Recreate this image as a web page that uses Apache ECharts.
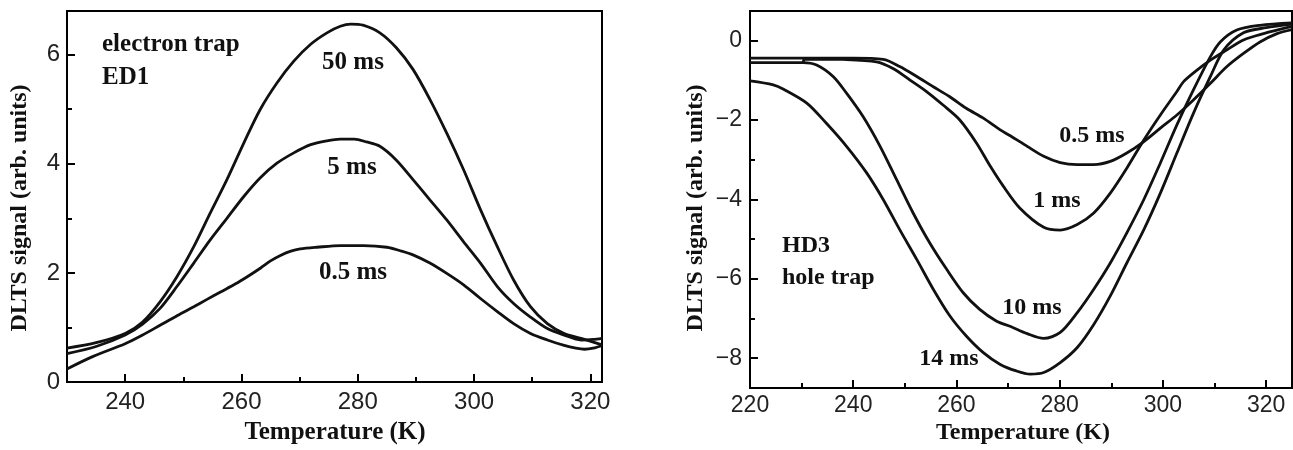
<!DOCTYPE html>
<html><head><meta charset="utf-8">
<script src="https://cdn.jsdelivr.net/npm/echarts@6/dist/echarts.min.js"></script>
<style>html,body{margin:0;padding:0;background:#fff}#c{width:1293px;height:450px}</style>
</head><body><div id="c"></div>
<script>
// ---------- Left panel: electron trap ED1 ----------
const ed1XTicks = [240, 260, 280, 300, 320];
const ed1XMinor = [250, 270, 290, 310];
const ed1YTicks = [0, 2, 4, 6];
const ed1YMinor = [1, 3, 5];

const ed1_T_50 = [230, 235, 240, 243, 246, 248.9, 251.8, 254.6, 257.5, 260.4, 263.2, 266.1, 269, 271.9, 274.7, 277, 278.8, 280.9, 283.8, 286.6, 289.5, 292.4, 295.3, 298.2, 301.1, 304, 306.8, 309.7, 312.6, 315.5, 318.4, 322];
const ed1_V_50 = [0.62, 0.72, 0.89, 1.10, 1.47, 1.93, 2.48, 3.09, 3.71, 4.38, 4.99, 5.48, 5.88, 6.19, 6.40, 6.52, 6.56, 6.54, 6.40, 6.13, 5.73, 5.18, 4.56, 3.89, 3.16, 2.48, 1.87, 1.38, 1.07, 0.89, 0.80, 0.68];

const ed1_T_5 = [230, 235, 240, 243, 246, 248.9, 251.8, 254.6, 257.5, 260.4, 263.2, 266.1, 269, 271.9, 274.7, 277, 279.4, 281.5, 283.8, 286.6, 289.5, 292.4, 295.3, 298.2, 301.1, 304, 306.8, 309.7, 312.6, 315.5, 318.4, 320.5, 322];
const ed1_V_5 = [0.52, 0.65, 0.86, 1.06, 1.35, 1.75, 2.18, 2.60, 3.00, 3.40, 3.74, 4.01, 4.20, 4.35, 4.42, 4.45, 4.45, 4.40, 4.32, 4.07, 3.71, 3.34, 2.97, 2.57, 2.18, 1.75, 1.44, 1.19, 0.98, 0.86, 0.77, 0.78, 0.80];

const ed1_T_05 = [230, 234.5, 240, 243, 246, 249, 251.8, 254, 256.4, 259, 261, 263.3, 265, 266.7, 268.5, 270.1, 273, 277, 281, 285, 287.5, 289.5, 292.4, 295.3, 298.2, 301.1, 304, 306.8, 309.7, 312.6, 315.5, 317.5, 319, 320.5, 322];
const ed1_V_05 = [0.24, 0.47, 0.70, 0.86, 1.04, 1.22, 1.38, 1.51, 1.65, 1.80, 1.93, 2.09, 2.22, 2.32, 2.40, 2.44, 2.47, 2.50, 2.50, 2.47, 2.40, 2.33, 2.18, 1.99, 1.78, 1.53, 1.29, 1.07, 0.89, 0.77, 0.67, 0.62, 0.60, 0.62, 0.67];

// ---------- Right panel: hole trap HD3 ----------
const hd3XTicks = [220, 240, 260, 280, 300, 320];
const hd3XMinor = [230, 250, 270, 290, 310];
const hd3YTicks = [-8, -6, -4, -2, 0];
const hd3YMinor = [-7, -5, -3, -1];

const hd3_T_05 = [220, 240, 245.8, 249, 252.3, 255.5, 258.7, 261.9, 265.2, 268.4, 270.5, 273.7, 276.9, 280.1, 283.4, 286.6, 289.8, 293, 296.3, 299.5, 302.7, 305.9, 309.2, 312.4, 315.6, 318.8, 322.1, 325];
const hd3_V_05 = [-0.44, -0.44, -0.47, -0.65, -0.90, -1.16, -1.41, -1.70, -1.95, -2.24, -2.40, -2.66, -2.91, -3.07, -3.12, -3.12, -3.04, -2.83, -2.54, -2.20, -1.87, -1.49, -1.07, -0.65, -0.32, -0.03, 0.18, 0.28];

const hd3_T_1 = [230.3, 230.6, 238, 244.5, 247.7, 251, 254.2, 257.4, 260.6, 263.9, 266.5, 269, 272.3, 276.9, 280.1, 283.4, 286.6, 289.8, 293, 296.3, 299.5, 302.7, 304, 306.6, 309.2, 312.4, 315.6, 319.5, 325];
const hd3_V_1 = [-0.55, -0.46, -0.47, -0.53, -0.70, -0.99, -1.28, -1.62, -1.99, -2.58, -3.15, -3.65, -4.22, -4.70, -4.77, -4.63, -4.34, -3.84, -3.21, -2.50, -1.87, -1.28, -1.03, -0.74, -0.49, -0.23, 0.02, 0.18, 0.36];

const hd3_T_10 = [220, 230.3, 232.9, 236.1, 238.7, 241.9, 245.2, 248.4, 251.6, 254.8, 258.1, 261.3, 264.5, 267.7, 270.5, 273.7, 276.9, 280.1, 283.4, 286.6, 289.8, 293, 296.3, 299.5, 302.7, 305.9, 309.2, 311.1, 314.3, 318.8, 325];
const hd3_V_10 = [-0.55, -0.55, -0.61, -0.90, -1.32, -1.91, -2.66, -3.50, -4.34, -5.09, -5.76, -6.35, -6.77, -7.06, -7.20, -7.38, -7.50, -7.35, -6.85, -6.26, -5.60, -4.84, -4.00, -3.08, -2.12, -1.24, -0.40, -0.03, 0.27, 0.39, 0.45];

const hd3_T_14 = [220, 224.5, 226.5, 231, 234.8, 238.7, 242.6, 245.8, 249, 252.3, 255.5, 258.7, 261.9, 265.2, 268.4, 271.6, 274.3, 276.9, 280.1, 283.4, 286.6, 289.8, 293, 296.3, 299.5, 302.7, 305.9, 309.2, 311.8, 315.6, 320, 325];
const hd3_V_14 = [-1.01, -1.11, -1.22, -1.57, -2.08, -2.66, -3.33, -4.00, -4.76, -5.51, -6.26, -6.93, -7.44, -7.86, -8.15, -8.32, -8.40, -8.36, -8.11, -7.73, -7.15, -6.43, -5.60, -4.76, -3.84, -2.83, -1.83, -0.90, -0.23, 0.20, 0.33, 0.42];

// ---------- build ----------
const zip = (T, V) => T.map((t, i) => [t, V[i]]);
const INK = '#111';
const SANS = 'Liberation Sans, Arial, sans-serif';
const SERIF = 'Liberation Serif, Times New Roman, serif';

function mainX(grid, min, max, ticks, fs, margin) {
  return {gridIndex: grid, type: 'value', min, max, position: 'bottom',
    axisLine: {onZero: false, lineStyle: {color: '#000', width: 2}},
    axisTick: {inside: true, length: 8, lineStyle: {color: '#000', width: 2}, customValues: ticks},
    axisLabel: {customValues: ticks, fontFamily: SANS, fontSize: fs, color: '#222', margin},
    splitLine: {show: false}};
}
function minorX(grid, min, max, ticks) {
  return {gridIndex: grid, type: 'value', min, max, position: 'bottom',
    axisLine: {show: false, onZero: false},
    axisTick: {inside: true, length: 5, lineStyle: {color: '#000', width: 2}, customValues: ticks},
    axisLabel: {show: false}, splitLine: {show: false}};
}
function mainY(grid, min, max, ticks, fs, margin) {
  return {gridIndex: grid, type: 'value', min, max, position: 'left',
    axisLine: {onZero: false, lineStyle: {color: '#000', width: 2}},
    axisTick: {inside: true, length: 8, lineStyle: {color: '#000', width: 2}, customValues: ticks},
    axisLabel: {customValues: ticks, fontFamily: SANS, fontSize: fs, color: '#222', margin,
      formatter: v => String(v).replace('-', '\u2212')},
    splitLine: {show: false}};
}
function minorY(grid, min, max, ticks) {
  return {gridIndex: grid, type: 'value', min, max, position: 'left',
    axisLine: {show: false, onZero: false},
    axisTick: {inside: true, length: 5, lineStyle: {color: '#000', width: 2}, customValues: ticks},
    axisLabel: {show: false}, splitLine: {show: false}};
}
function curve(xi, yi, data) {
  return {type: 'line', xAxisIndex: xi, yAxisIndex: yi, data, showSymbol: false, smooth: 0.3,
    lineStyle: {color: INK, width: 2.8}, clip: true, silent: true};
}
function txt(text, x, y, fs, align, rot) {
  return {type: 'text', x, y, rotation: rot || 0, silent: true,
    style: {text, fontFamily: SERIF, fontWeight: 'bold', fontSize: fs, fill: INK,
      align: align || 'center', verticalAlign: 'middle'}};
}

const option = {
  animation: false,
  backgroundColor: '#fff',
  grid: [
    {left: 67, top: 11, right: 691, bottom: 68, show: true, borderColor: '#000', borderWidth: 2},
    {left: 67, top: 11, right: 691, bottom: 68},
    {left: 750, top: 11, right: 1, bottom: 62, show: true, borderColor: '#000', borderWidth: 2},
    {left: 750, top: 11, right: 1, bottom: 62}
  ],
  xAxis: [
    mainX(0, 230, 322, ed1XTicks, 24, 8),
    minorX(1, 230, 322, ed1XMinor),
    mainX(2, 220, 325, hd3XTicks, 23, 6),
    minorX(3, 220, 325, hd3XMinor)
  ],
  yAxis: [
    mainY(0, 0, 6.8, ed1YTicks, 24, 7),
    minorY(1, 0, 6.8, ed1YMinor),
    mainY(2, -8.75, 0.75, hd3YTicks, 23, 8),
    minorY(3, -8.75, 0.75, hd3YMinor)
  ],
  series: [
    curve(0, 0, zip(ed1_T_50, ed1_V_50)),
    curve(0, 0, zip(ed1_T_5, ed1_V_5)),
    curve(0, 0, zip(ed1_T_05, ed1_V_05)),
    curve(2, 2, zip(hd3_T_05, hd3_V_05)),
    curve(2, 2, zip(hd3_T_1, hd3_V_1)),
    curve(2, 2, zip(hd3_T_10, hd3_V_10)),
    curve(2, 2, zip(hd3_T_14, hd3_V_14))
  ],
  graphic: [
    txt('electron trap', 102, 45, 25, 'left'),
    txt('ED1', 102, 78, 25, 'left'),
    txt('50 ms', 353, 63, 25),
    txt('5 ms', 352, 168, 25),
    txt('0.5 ms', 353, 273, 25),
    txt('Temperature (K)', 335, 433, 25),
    txt('DLTS signal (arb. units)', 20, 208, 24, 'center', Math.PI / 2),
    txt('HD3', 782, 246, 24, 'left'),
    txt('hole trap', 782, 278, 24, 'left'),
    txt('0.5 ms', 1092, 136, 24),
    txt('1 ms', 1057, 201, 24),
    txt('10 ms', 1032, 308, 24),
    txt('14 ms', 949, 359, 24),
    txt('Temperature (K)', 1023, 433, 24),
    txt('DLTS signal (arb. units)', 696, 208, 24, 'center', Math.PI / 2)
  ]
};
const chart = echarts.init(document.getElementById('c'), null, {renderer: 'canvas'});
chart.setOption(option);
</script></body></html>
